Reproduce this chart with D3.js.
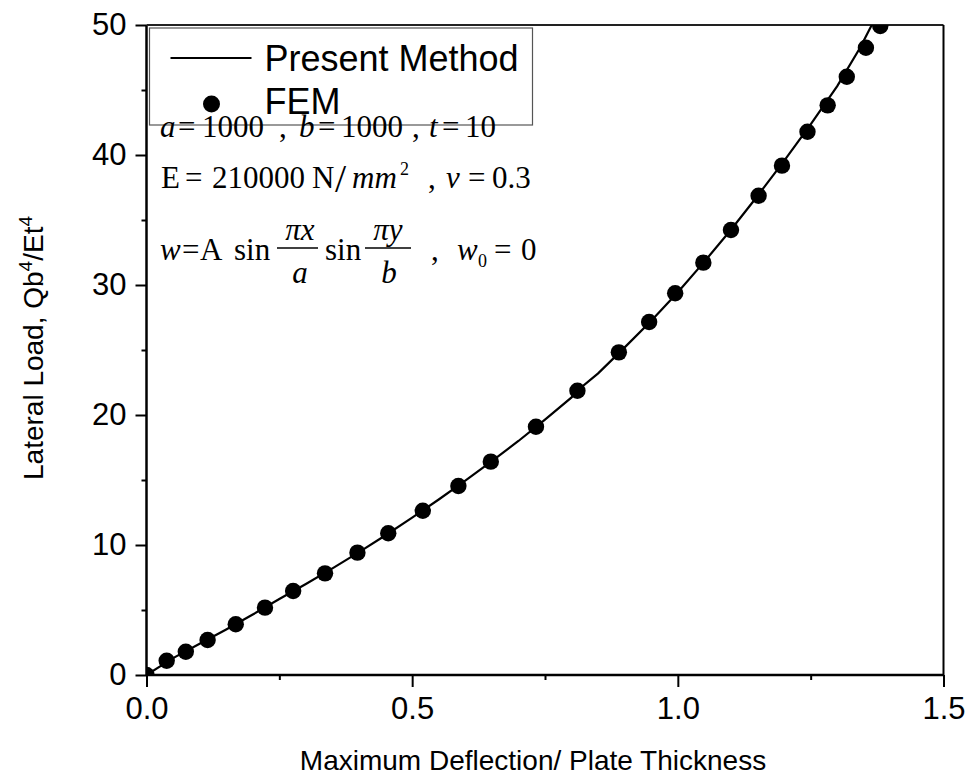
<!DOCTYPE html>
<html>
<head>
<meta charset="utf-8">
<script src="https://cdn.jsdelivr.net/npm/d3@7/dist/d3.min.js"></script>
<style>
  html, body { margin: 0; padding: 0; background: #fff; }
  svg { display: block; }
  .axis text { font-family: "Liberation Sans", Arial, sans-serif; font-size: 31px; fill: #000; }
  .axis line { stroke: #000; stroke-width: 2; }
  .title { font-family: "Liberation Sans", Arial, sans-serif; font-size: 28px; fill: #000; }
  .math { font-family: "Liberation Serif", "Times New Roman", serif; font-size: 31px; fill: #000; }
</style>
</head>
<body>
<div id="chart"></div>
<script>
// Present Method curve (deflection / thickness, Qb^4/Et^4)
const curveX = [0, 0.05, 0.10, 0.15, 0.20, 0.25, 0.30, 0.35, 0.40, 0.45, 0.50, 0.55, 0.60, 0.65,
  0.70, 0.75, 0.80, 0.81, 0.85, 0.90, 0.95, 1.00, 1.05, 1.10, 1.15, 1.20, 1.25, 1.30, 1.343, 1.365];
const curveY = [0, 1.3, 2.4, 3.5, 4.65, 5.85, 7.0, 8.2, 9.45, 10.75, 12.1, 13.5, 14.95, 16.45,
  18.0, 19.65, 21.35, 21.85, 23.2, 25.2, 27.25, 29.45, 31.8, 34.25, 36.85, 39.55, 42.35, 45.3, 48.25, 50.0];

// FEM points
const femX = [0, 0.038, 0.074, 0.115, 0.168, 0.223, 0.276, 0.336, 0.397, 0.455, 0.520, 0.587, 0.648,
  0.733, 0.811, 0.889, 0.946, 0.995, 1.048, 1.100, 1.152, 1.196, 1.244, 1.282, 1.318, 1.354, 1.381];
const femY = [0, 1.10, 1.79, 2.69, 3.90, 5.18, 6.46, 7.82, 9.41, 10.90, 12.64, 14.54, 16.41,
  19.10, 21.87, 24.82, 27.15, 29.36, 31.72, 34.23, 36.87, 39.18, 41.79, 43.82, 46.02, 48.25, 49.92];

const xMajor = [0, 0.5, 1.0, 1.5];
const xMinor = [0.25, 0.75, 1.25];
const yMajor = [0, 10, 20, 30, 40, 50];
const yMinor = [5, 15, 25, 35, 45];

const legendLabels = ['Present Method', 'FEM'];

const width = 968, height = 778;
const margin = { top: 25, right: 24.5, bottom: 103, left: 146.5 };
const innerWidth = width - margin.left - margin.right;
const innerHeight = height - margin.top - margin.bottom;

const svg = d3.select('#chart').append('svg')
  .attr('width', width)
  .attr('height', height);

const g = svg.append('g').attr('transform', `translate(${margin.left},${margin.top})`);

const x = d3.scaleLinear().domain([0, 1.5]).range([0, innerWidth]);
const y = d3.scaleLinear().domain([0, 50]).range([innerHeight, 0]);

g.append('clipPath').attr('id', 'plot-clip')
  .append('rect').attr('width', innerWidth).attr('height', innerHeight);

// axes (major + minor ticks)
g.append('g').attr('class', 'axis').attr('transform', `translate(0,${innerHeight})`)
  .call(d3.axisBottom(x).tickValues(xMajor).tickSize(12).tickPadding(10).tickFormat(d3.format('.1f')));
g.append('g').attr('class', 'axis').attr('transform', `translate(0,${innerHeight})`)
  .call(d3.axisBottom(x).tickValues(xMinor).tickSize(5).tickFormat(''));
const gy = g.append('g').attr('class', 'axis')
  .call(d3.axisLeft(y).tickValues(yMajor).tickSize(11).tickPadding(9));
g.append('g').attr('class', 'axis')
  .call(d3.axisLeft(y).tickValues(yMinor).tickSize(5).tickFormat(''));
g.selectAll('.axis .domain').remove();
gy.selectAll('text').attr('dy', '0.3em');

// frame
g.append('line').attr('x1', 0).attr('x2', innerWidth).attr('y1', innerHeight).attr('y2', innerHeight)
  .attr('stroke', '#000').attr('stroke-width', 2.5);
g.append('line').attr('x1', 0).attr('x2', 0).attr('y1', 0).attr('y2', innerHeight)
  .attr('stroke', '#000').attr('stroke-width', 2.5);
g.append('line').attr('x1', 0).attr('x2', innerWidth).attr('y1', 0).attr('y2', 0)
  .attr('stroke', '#222').attr('stroke-width', 1.8);
g.append('line').attr('x1', innerWidth).attr('x2', innerWidth).attr('y1', 0).attr('y2', innerHeight)
  .attr('stroke', '#000').attr('stroke-width', 2);

// data
const plot = g.append('g').attr('clip-path', 'url(#plot-clip)');
const curve = curveX.map((v, i) => [v, curveY[i]]);
const fem = femX.map((v, i) => [v, femY[i]]);

plot.append('path')
  .datum(curve)
  .attr('fill', 'none')
  .attr('stroke', '#000')
  .attr('stroke-width', 2.2)
  .attr('d', d3.line().x(d => x(d[0])).y(d => y(d[1])));

plot.selectAll('circle.fem').data(fem).join('circle')
  .attr('class', 'fem')
  .attr('cx', d => x(d[0]))
  .attr('cy', d => y(d[1]))
  .attr('r', 8.2)
  .attr('fill', '#000');

// axis titles
svg.append('text').attr('class', 'title')
  .attr('x', margin.left + innerWidth / 2 - 12)
  .attr('y', 770)
  .attr('text-anchor', 'middle')
  .text('Maximum Deflection/ Plate Thickness');

const yt = svg.append('text').attr('class', 'title')
  .attr('transform', `translate(43,${margin.top + innerHeight / 2 - 2}) rotate(-90)`)
  .attr('text-anchor', 'middle');
yt.append('tspan').text('Lateral Load, Qb');
yt.append('tspan').attr('dy', -11).attr('font-size', 19).text('4');
yt.append('tspan').attr('dy', 11).text('/Et');
yt.append('tspan').attr('dy', -11).attr('font-size', 19).text('4');

// legend
const lg = g.append('g').attr('transform', 'translate(3,3)');
lg.append('rect')
  .attr('width', 383).attr('height', 97)
  .attr('fill', 'none').attr('stroke', '#555').attr('stroke-width', 1.2);
lg.append('line').attr('x1', 21).attr('x2', 102).attr('y1', 30).attr('y2', 30)
  .attr('stroke', '#000').attr('stroke-width', 2);
lg.append('circle').attr('cx', 62).attr('cy', 76).attr('r', 8.5).attr('fill', '#000');
lg.selectAll('text.leg').data(legendLabels).join('text')
  .attr('class', 'leg')
  .attr('x', 115)
  .attr('y', (d, i) => 43 + i * 42.5)
  .attr('font-family', '"Liberation Sans", Arial, sans-serif')
  .attr('font-size', 36)
  .text(d => d);

// parameter annotation (math)
const math = svg.append('g').attr('class', 'math');
function piece(t, px, py, opt = {}) {
  const el = math.append('text').attr('x', px).attr('y', py).text(t);
  if (opt.it) el.attr('font-style', 'italic');
  if (opt.size) el.attr('font-size', opt.size);
  if (opt.anchor) el.attr('text-anchor', opt.anchor);
  return el;
}
// line 1
piece('a', 160, 137, { it: 1 });
piece('=', 178, 137);
piece('1000', 202, 137);
piece(',', 279, 137);
piece('b', 299, 137, { it: 1 });
piece('=', 318, 137);
piece('1000', 341, 137);
piece(',', 412, 137);
piece('t', 429, 137, { it: 1 });
piece('=', 442, 137);
piece('10', 465, 137);
// line 2
piece('E', 161, 188);
piece('=', 185, 188);
piece('210000', 212, 188);
piece('N', 312, 188);
piece('/', 335, 192, { size: 40 });
piece('mm', 352, 188, { it: 1 });
piece('2', 400, 175, { size: 18 });
piece(',', 428, 188);
piece('ν', 446, 188, { it: 1 });
piece('=', 468, 188);
piece('0.3', 492, 188);
// line 3
piece('w', 160, 260, { it: 1 });
piece('=', 182, 260);
piece('A', 200, 260);
piece('sin', 234, 260);
piece('πx', 300, 240, { it: 1, anchor: 'middle' });
math.append('line').attr('x1', 277).attr('x2', 318).attr('y1', 248).attr('y2', 248)
  .attr('stroke', '#000').attr('stroke-width', 1.5);
piece('a', 300, 283, { it: 1, anchor: 'middle' });
piece('sin', 325, 260);
piece('πy', 388, 240, { it: 1, anchor: 'middle' });
math.append('line').attr('x1', 365).attr('x2', 411).attr('y1', 248).attr('y2', 248)
  .attr('stroke', '#000').attr('stroke-width', 1.5);
piece('b', 389, 283, { it: 1, anchor: 'middle' });
piece(',', 431, 260);
piece('w', 457, 260, { it: 1 });
piece('0', 478, 267, { size: 18 });
piece('=', 494, 260);
piece('0', 521, 260);
</script>
</body>
</html>
